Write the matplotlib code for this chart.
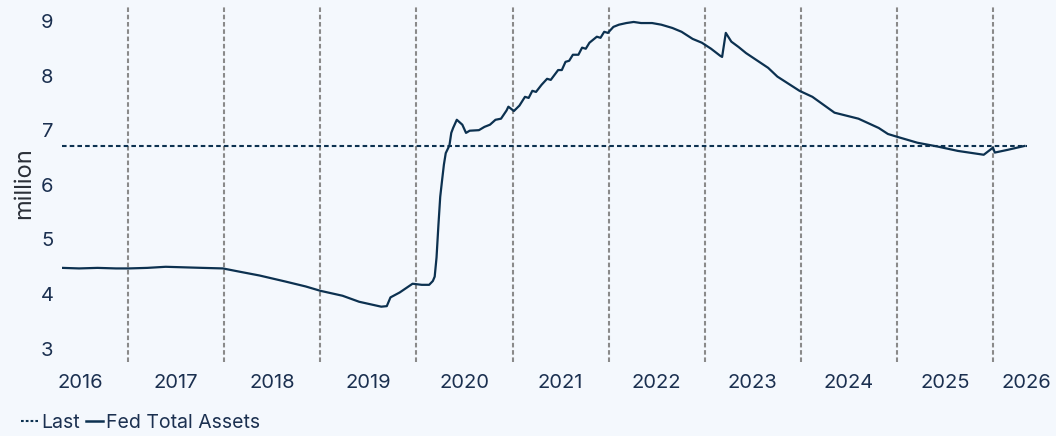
import pandas as pd
import matplotlib.pyplot as plt
from matplotlib.lines import Line2D

plt.rcParams['font.family'] = ['Inter', 'DejaVu Sans']

# Fed total assets, weekly readings (million)
dates = [
    "2016-04-27", "2016-06-29", "2016-09-07", "2016-11-16", "2017-01-04",
    "2017-03-15", "2017-05-24", "2017-08-02", "2017-10-11", "2017-12-27",
    "2018-03-01", "2018-05-16", "2018-08-22", "2018-11-07", "2019-01-02",
    "2019-03-27", "2019-05-29", "2019-08-21", "2019-09-11", "2019-09-25",
    "2019-10-30", "2019-12-18", "2020-01-22", "2020-02-19", "2020-03-04",
    "2020-03-11", "2020-03-18", "2020-03-25", "2020-04-01", "2020-04-08",
    "2020-04-15", "2020-04-22", "2020-05-06", "2020-05-13", "2020-05-20",
    "2020-06-03", "2020-06-17", "2020-06-24", "2020-07-08", "2020-07-22",
    "2020-08-26", "2020-09-16", "2020-10-07", "2020-10-28", "2020-11-18",
    "2020-12-09", "2020-12-16", "2021-01-06", "2021-01-27", "2021-02-17",
    "2021-03-03", "2021-03-17", "2021-03-31", "2021-04-21", "2021-05-12",
    "2021-05-26", "2021-06-23", "2021-07-07", "2021-07-21", "2021-08-04",
    "2021-08-18", "2021-09-08", "2021-09-22", "2021-10-06", "2021-10-20",
    "2021-11-17", "2021-12-01", "2021-12-15", "2021-12-29", "2022-01-19",
    "2022-02-09", "2022-03-09", "2022-04-06", "2022-05-04", "2022-06-15",
    "2022-07-20", "2022-08-31", "2022-10-05", "2022-11-16", "2022-12-21",
    "2023-01-25", "2023-03-01", "2023-03-08", "2023-03-22", "2023-04-12",
    "2023-05-10", "2023-06-07", "2023-08-30", "2023-10-04", "2023-12-27",
    "2024-02-14", "2024-05-08", "2024-08-07", "2024-10-23", "2024-11-27",
    "2024-12-31", "2025-03-19", "2025-06-04", "2025-08-20", "2025-11-26",
    "2025-12-31", "2026-01-07", "2026-02-25", "2026-04-29",
]
fed_assets = [
    4.48, 4.47, 4.48, 4.47, 4.47,
    4.48, 4.50, 4.49, 4.48, 4.47,
    4.41, 4.34, 4.23, 4.14, 4.06,
    3.97, 3.86, 3.77, 3.78, 3.94,
    4.03, 4.19, 4.17, 4.17, 4.24,
    4.32, 4.67, 5.25, 5.78, 6.08,
    6.37, 6.58, 6.72, 6.95, 7.04,
    7.19, 7.13, 7.10, 6.95, 6.99,
    7.00, 7.06, 7.10, 7.19, 7.21,
    7.36, 7.43, 7.35, 7.45, 7.61,
    7.59, 7.72, 7.70, 7.83, 7.94,
    7.92, 8.10, 8.10, 8.25, 8.27,
    8.38, 8.38, 8.51, 8.49, 8.60,
    8.71, 8.69, 8.80, 8.78, 8.89,
    8.93, 8.96, 8.98, 8.96, 8.96,
    8.93, 8.87, 8.80, 8.67, 8.60,
    8.49, 8.36, 8.34, 8.78, 8.62,
    8.52, 8.41, 8.14, 7.98, 7.72,
    7.61, 7.32, 7.21, 7.04, 6.93,
    6.88, 6.77, 6.70, 6.62, 6.55,
    6.68, 6.59, 6.64, 6.71,
]
last_value = fed_assets[-1]

year_starts = [str(y) + "-01-01" for y in range(2017, 2027)]
year_labels = [str(y) for y in range(2016, 2027)]
y_ticks = [3, 4, 5, 6, 7, 8, 9]

bg = '#f4f8fd'
navy = '#0c3150'
text_col = '#1b3050'

df = pd.DataFrame({'date': pd.to_datetime(dates), 'value': fed_assets})
x_start = pd.Timestamp("2016-04-25")
x_end = pd.Timestamp("2026-05-10")

fig = plt.figure(figsize=(10.56, 4.36), dpi=100, facecolor=bg)
ax = fig.add_axes([0.0587, 0.170, 0.9140, 0.8185], facecolor=bg)

# year separators
for d in year_starts:
    ax.axvline(pd.Timestamp(d), color='#8a8a8a', lw=1.5, ls=(0, (2.2, 1.3)), zorder=1)

ax.axhline(last_value, color=navy, lw=1.5, ls=(0, (2.2, 1.5)), zorder=2)
ax.plot(df['date'], df['value'], color=navy, lw=1.6, zorder=3)

ax.set_xlim(x_start, x_end)
ax.set_ylim(2.76, 9.29)

# year labels sit mid-year; the last one is pulled in to the data end
label_pos = [pd.Timestamp(f"{y}-07-02") for y in range(2016, 2026)] + [pd.Timestamp("2026-05-06")]
ax.set_xticks(label_pos)
ax.set_xticklabels(year_labels)
ax.set_yticks(y_ticks)
ax.tick_params(axis='x', length=0, pad=9, labelsize=14.5, colors=text_col)
ax.tick_params(axis='y', length=0, pad=6, labelsize=14.5, colors=text_col)
ax.set_ylabel('million', fontsize=17, color='#2a2f38', labelpad=4)

for s in ax.spines.values():
    s.set_visible(False)

handles = [
    Line2D([0], [0], color=navy, lw=1.5, ls=(0, (1.3, 1.0))),
    Line2D([0], [0], color=navy, lw=1.8),
]
fig.legend(handles, ['Last', 'Fed Total Assets'], loc='lower left',
           bbox_to_anchor=(0.003, -0.03), ncol=2, frameon=False,
           handlelength=0.9, handletextpad=0.15, columnspacing=0.3,
           fontsize=14, labelcolor=text_col)

fig.savefig('out.png', dpi=100, facecolor=bg)
